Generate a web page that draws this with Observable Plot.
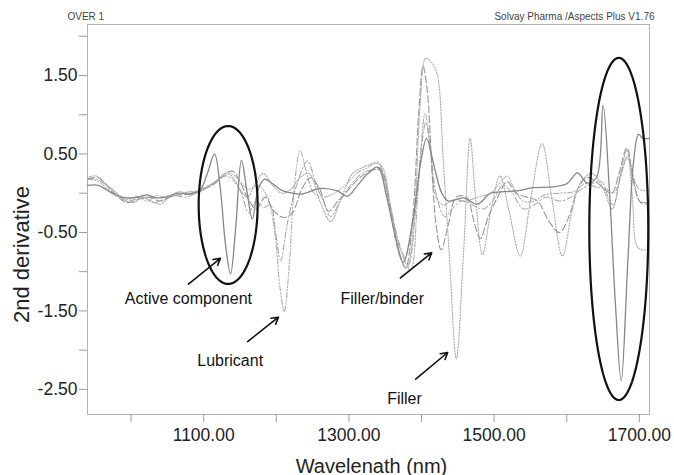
<!DOCTYPE html>
<html><head><meta charset="utf-8">
<script src="https://cdn.jsdelivr.net/npm/d3@7"></script>
<script src="https://cdn.jsdelivr.net/npm/@observablehq/plot@0.6"></script>
<style>html,body{margin:0;padding:0;background:#fff;}#chart{width:674px;height:475px;}</style>
</head><body><div id="chart"></div>
<script>
// ---- data (wavelength nm, 2nd derivative) ----
const activeWl = [940,955,967,980,995,1010,1022,1035,1050,1065,1080,1095,1105,1115,1123,1130,1137,1144,1152,1160,1167,1175,1184,1195,1207,1222,1236,1260,1284,1298,1312,1325,1340,1352,1364,1375,1388,1399,1407,1416,1428,1437,1458,1477,1495,1515,1532,1554,1580,1600,1615,1628,1641,1650,1659,1667,1675,1684,1692,1699,1705,1714];
const activeVal = [0.10,0.10,0.04,-0.03,-0.06,-0.05,-0.02,-0.06,-0.04,0.00,-0.01,0.04,0.25,0.50,0.05,-0.65,-1.03,-0.45,0.42,0.00,-0.33,0.05,0.18,0.12,0.04,0.00,-0.01,0.06,0.03,-0.04,0.10,0.24,0.33,-0.05,-0.55,-0.88,-0.35,0.40,0.70,0.40,0.00,-0.10,-0.06,-0.14,0.00,0.02,0.03,0.07,0.08,0.12,0.26,0.13,0.20,1.12,0.00,-1.40,-2.39,-0.90,0.40,0.75,0.70,0.70];

const fillerWl = [940,952,965,978,990,1003,1015,1028,1040,1052,1065,1080,1095,1108,1120,1132,1142,1150,1160,1170,1182,1195,1208,1220,1233,1245,1260,1275,1290,1305,1320,1335,1345,1358,1370,1380,1390,1398,1406,1415,1422,1430,1438,1448,1458,1467,1474,1484,1496,1508,1520,1536,1550,1566,1580,1594,1608,1620,1635,1648,1663,1673,1683,1690,1697,1704,1714];
const fillerVal = [0.20,0.22,0.12,0.02,-0.08,-0.12,-0.06,-0.10,-0.14,-0.06,-0.02,0.02,0.02,0.10,0.18,0.26,0.18,0.05,-0.05,0.10,0.25,0.10,0.00,0.05,0.20,0.25,-0.10,-0.36,-0.05,0.25,0.33,0.38,0.35,-0.20,-0.80,-0.95,-0.30,1.10,1.72,1.65,1.50,0.40,-0.74,-2.11,-0.74,0.70,0.00,-0.78,-0.20,0.22,-0.20,-0.80,-0.10,0.63,-0.10,-0.80,-0.20,0.15,0.25,0.10,-0.20,0.20,0.55,0.00,-0.68,-0.72,-0.72];

const binderWl = [940,955,968,982,995,1010,1025,1040,1055,1070,1088,1100,1115,1128,1140,1150,1160,1172,1185,1196,1210,1222,1235,1247,1260,1272,1285,1300,1315,1330,1343,1355,1367,1378,1388,1396,1402,1408,1415,1420,1427,1437,1448,1462,1472,1481,1492,1505,1518,1530,1545,1560,1575,1590,1603,1615,1628,1640,1652,1662,1672,1683,1693,1703,1714];
const binderVal = [0.18,0.20,0.08,-0.05,-0.12,-0.08,-0.05,-0.10,-0.04,-0.02,0.00,0.05,0.12,0.24,0.28,0.15,-0.05,-0.20,-0.05,-0.22,-0.31,-0.25,0.05,0.20,0.05,-0.23,-0.10,0.05,0.20,0.28,0.32,-0.10,-0.70,-0.95,-0.30,1.00,1.62,1.30,0.20,-0.40,-0.72,-0.40,-0.05,-0.05,-0.35,-0.58,-0.30,-0.05,0.15,0.00,-0.05,-0.10,-0.35,-0.50,-0.30,0.05,0.20,0.15,0.05,0.00,0.25,0.58,0.10,-0.13,-0.13];

const lubWl = [940,955,968,982,995,1008,1022,1035,1050,1065,1080,1095,1110,1125,1138,1150,1162,1175,1188,1198,1205,1211,1218,1225,1233,1242,1252,1265,1280,1295,1310,1325,1340,1350,1360,1372,1385,1395,1405,1412,1420,1430,1445,1460,1478,1495,1510,1518,1528,1540,1555,1570,1590,1610,1625,1640,1655,1665,1675,1684,1692,1700,1714];
const lubVal = [0.18,0.15,0.05,-0.02,-0.08,-0.04,-0.10,-0.03,-0.06,0.02,0.00,0.05,0.10,0.20,0.25,0.15,0.05,0.10,-0.05,-0.50,-1.20,-1.51,-0.90,0.10,0.54,0.25,0.00,-0.05,0.00,0.10,0.25,0.32,0.40,0.10,-0.30,-0.75,-0.98,0.00,1.02,0.60,-0.05,-0.15,-0.08,-0.10,-0.05,0.00,0.15,0.22,0.05,-0.10,-0.10,-0.02,0.00,0.02,0.12,0.08,0.05,0.00,0.25,0.48,0.20,0.05,0.03];

const blendWl = [940,952,966,980,992,1005,1018,1030,1045,1060,1075,1090,1103,1118,1130,1142,1152,1162,1172,1183,1192,1199,1206,1215,1228,1243,1255,1265,1275,1288,1302,1318,1333,1345,1357,1368,1382,1392,1400,1406,1413,1420,1432,1442,1455,1470,1485,1498,1512,1525,1540,1555,1572,1590,1606,1620,1635,1648,1657,1664,1674,1683,1692,1700,1714];
const blendVal = [0.17,0.18,0.10,0.00,-0.10,-0.08,-0.05,-0.12,-0.08,-0.03,-0.05,0.00,0.08,0.15,0.22,0.15,0.00,-0.25,-0.10,-0.18,-0.15,-0.50,-0.86,-0.40,0.10,0.41,0.10,-0.10,-0.30,-0.10,0.10,0.25,0.30,0.28,-0.15,-0.60,-0.90,-0.20,0.60,0.90,0.50,0.00,-0.30,-0.20,-0.10,-0.15,-0.20,-0.10,0.10,0.00,-0.20,-0.15,-0.05,-0.10,-0.05,0.05,0.12,0.15,-0.05,-0.15,0.20,0.45,0.20,-0.10,-0.12];

// axis ticks
const xTicks = [1000,1100,1200,1300,1400,1500,1600,1700];
const xLabelTicks = [1100,1300,1500,1700];
const yTicks = [-2.5,-2,-1.5,-1,-0.5,0,0.5,1,1.5,2];
const yLabelTicks = [-2.5,-1.5,-0.5,0.5,1.5];

// annotations
const annotText = ["Active component","Lubricant","Filler/binder","Filler"];
const annotX = [1079,1136.5,1346,1376.6];
const annotY = [-1.41,-2.20,-1.41,-2.685];
const arrowX1 = [1079,1160.5,1371,1392];
const arrowY1 = [-1.16,-1.89,-1.08,-2.37];
const arrowX2 = [1123,1203,1414,1436];
const arrowY2 = [-0.83,-1.58,-0.76,-2.03];
const ellipseCx = [1133.7,1671.7];
const ellipseCy = [-0.15,-0.455];
const ellipseRx = [40.6,40.6];
const ellipseRy = [1.006,2.18];

// ---- build tables ----
const seriesDefs = [
  {name:"blend", wl:blendWl, val:blendVal},
  {name:"lubricant", wl:lubWl, val:lubVal},
  {name:"binder", wl:binderWl, val:binderVal},
  {name:"filler", wl:fillerWl, val:fillerVal},
  {name:"active", wl:activeWl, val:activeVal}
];
const styles = {
  active:{stroke:"#868686", strokeWidth:1.3},
  filler:{stroke:"#a9a9a9", strokeWidth:1.1, strokeDasharray:"1.3,1.6"},
  binder:{stroke:"#979797", strokeWidth:1.1, strokeDasharray:"7,3"},
  lubricant:{stroke:"#a2a2a2", strokeWidth:1, strokeDasharray:"5,2,1.3,2,1.3,2"},
  blend:{stroke:"#9c9c9c", strokeWidth:1, strokeDasharray:"6,2.5,1.5,2.5"}
};
const tables = seriesDefs.map(s => ({name:s.name, rows: s.wl.slice(0, Math.min(s.wl.length, s.val.length)).map((w,i)=>({nm:w, v:s.val[i]}))}));

const ellipsePts = [];
ellipseCx.forEach((cx,k)=>{
  for (let i=0;i<=160;i++){
    const t = i/160*2*Math.PI;
    ellipsePts.push({k, x: cx + ellipseRx[k]*Math.cos(t), y: ellipseCy[k] + ellipseRy[k]*Math.sin(t)});
  }
});
const annots = annotText.map((t,i)=>({t, x:annotX[i], y:annotY[i]}));
const arrows = arrowX1.map((x1,i)=>({x1, y1:arrowY1[i], x2:arrowX2[i], y2:arrowY2[i]}));

const font = "'Liberation Sans', Arial, Helvetica, sans-serif";

const chart = Plot.plot({
  width: 674, height: 475,
  marginLeft: 87, marginRight: 25, marginTop: 24, marginBottom: 61,
  style: {fontFamily: font, background: "#fff", color: "#222"},
  x: {domain: [940, 1714]},
  y: {domain: [-2.82, 2.15]},
  marks: [
    Plot.frame({stroke: "#b4b4b4", strokeWidth: 1}),
    Plot.axisY(yTicks, {tickSize: 8, tickPadding: 2, stroke: "#9a9a9a", fill: "#222", fontSize: 17.5,
      tickFormat: d => yLabelTicks.includes(d) ? d.toFixed(2) : "", label: null}),
    Plot.axisX(xTicks, {tickSize: 8, tickPadding: 6, stroke: "#9a9a9a", fill: "#222", fontSize: 17.5,
      tickFormat: d => xLabelTicks.includes(d) ? d.toFixed(2) : "", label: null}),
    ...tables.map(t => Plot.line(t.rows, {x: "nm", y: "v", curve: "catmull-rom", ...styles[t.name]})),
    Plot.line(ellipsePts, {x: "x", y: "y", z: "k", stroke: "#111", strokeWidth: 2.2, curve: "linear"}),
    Plot.arrow(arrows, {x1: "x1", y1: "y1", x2: "x2", y2: "y2", stroke: "#111", strokeWidth: 1.6, headLength: 7}),
    Plot.text(annots, {x: "x", y: "y", text: "t", fontSize: 16, fill: "#111", lineAnchor: "bottom", textAnchor: "middle"}),
    Plot.text(["Wavelenath (nm)"], {frameAnchor: "bottom", dx: 3, dy: 58, lineAnchor: "bottom", textAnchor: "middle", fontSize: 20, fill: "#222"}),
    Plot.text(["2nd derivative"], {frameAnchor: "left", dx: -66, dy: 35, rotate: -90, lineAnchor: "middle", textAnchor: "middle", fontSize: 22, fill: "#222"}),
    Plot.text(["OVER 1"], {frameAnchor: "top-left", dx: -20, dy: -5, textAnchor: "start", lineAnchor: "bottom", fontSize: 10, fill: "#444"}),
    Plot.text(["Solvay Pharma /Aspects Plus V1.76"], {frameAnchor: "top-right", dx: 5, dy: -5, textAnchor: "end", lineAnchor: "bottom", fontSize: 10, fill: "#444"})
  ]
});
document.getElementById("chart").appendChild(chart);
</script>
</body></html>
